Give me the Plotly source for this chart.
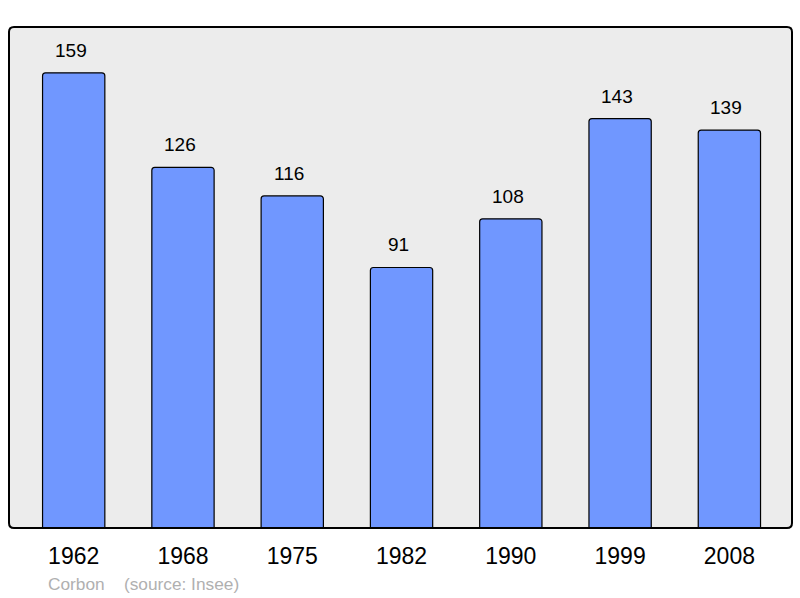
import plotly.graph_objects as go

years = ["1962", "1968", "1975", "1982", "1990", "1999", "2008"]
population = [159, 126, 116, 91, 108, 143, 139]
commune = "Corbon"
source = "(source: Insee)"

fig = go.Figure()
fig.add_trace(go.Bar(
    x=years, y=population, width=0.57,
    marker=dict(color="#7097ff", line=dict(color="#000000", width=1.2), cornerradius=3),
    hoverinfo="skip",
))
for i, v in enumerate(population):
    fig.add_annotation(x=i, y=v, text=str(v), showarrow=False, yanchor="bottom",
                       yshift=10, xshift=-3, font=dict(size=19, color="#000000"))

# rounded plot-area border (paper coordinates)
rx, ry = 5 / 783, 5 / 501
path = (f"M {rx},0 L {1-rx},0 Q 1,0 1,{ry} L 1,{1-ry} Q 1,1 {1-rx},1 "
        f"L {rx},1 Q 0,1 0,{1-ry} L 0,{ry} Q 0,0 {rx},0 Z")
fig.add_shape(type="path", xref="paper", yref="paper", path=path,
              line=dict(color="#000000", width=2), layer="above")

fig.add_annotation(xref="paper", yref="paper", x=0, xshift=37, y=0, yshift=-56,
                   xanchor="left", yanchor="middle", showarrow=False,
                   text=commune + "&nbsp;&nbsp;&nbsp;&nbsp;" + source,
                   font=dict(size=17.3, color="#b0b0b0"))

fig.update_layout(
    width=800, height=598,
    margin=dict(l=9, r=8, t=27, b=70),
    paper_bgcolor="#ffffff", plot_bgcolor="#ececec",
    font=dict(family="Liberation Sans, Arial, sans-serif"),
    showlegend=False,
    xaxis=dict(type="category", range=[-0.592, 6.573], showgrid=False, zeroline=False,
               showline=False, ticks="", tickfont=dict(size=23, color="#000000"),
               ticklabelstandoff=12),
    yaxis=dict(range=[0, 175], showgrid=False, zeroline=False, showticklabels=False,
               showline=False, ticks=""),
)
fig.write_html("out.html", config={"displayModeBar": False},
               post_script="document.body.style.margin='0';")
